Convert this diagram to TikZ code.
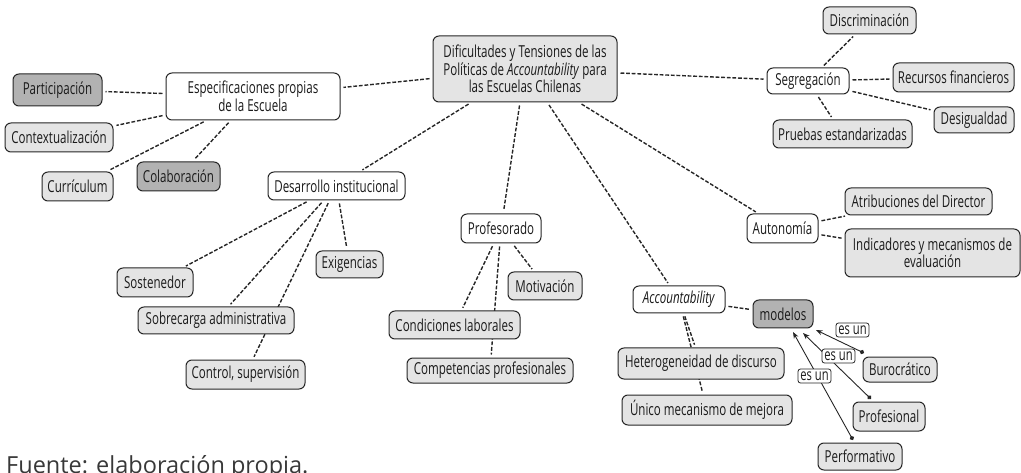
\documentclass[tikz,border=0pt]{standalone}
\usepackage{fontspec}
\setmainfont{Open Sans}[FakeStretch=0.7]
\newfontfamily\capfont{Open Sans}
\usetikzlibrary{arrows.meta,backgrounds}
\definecolor{lightfill}{HTML}{E4E4E4}
\definecolor{darkfill}{HTML}{B2B2B2}
\definecolor{edge}{HTML}{262626}
\definecolor{txt}{HTML}{1A1A1A}
\tikzset{
  box/.style={draw=edge, line width=1pt, rounded corners=6pt, align=center,
    inner sep=0pt, text=txt, font=\fontsize{16.5}{16}\selectfont},
  wbox/.style={box, fill=white},
  lbox/.style={box, fill=lightfill},
  dbox/.style={box, fill=darkfill},
  sz/.style 2 args={minimum width=#1pt, minimum height=#2pt},
  link/.style={draw=edge, line width=1.4pt, dash pattern=on 3.8pt off 1.8pt,
    shorten <=3pt, shorten >=3pt},
  isa/.style={draw=edge, line width=0.9pt, {Circle[length=4.5pt]}-{Stealth[length=6.5pt,width=5pt]}},
  lab/.style={draw=edge, line width=0.8pt, fill=white, rounded corners=2.5pt,
    inner sep=0.5pt, text=txt, font=\fontsize{16}{14}\selectfont,
    minimum width=33pt, minimum height=14pt}
}
\begin{document}
\begin{tikzpicture}[x=1pt,y=-1pt]
\useasboundingbox (0,0) rectangle (1021,473);
% nodes
\node[lbox, sz={184}{66}] (cen) at (525,69) {Dificultades y Tensiones de las\\Políticas de \textit{Accountability} para\\las Escuelas Chilenas};
\node[wbox, sz={174}{47}] (esp) at (253,96.5) {Especificaciones propias\\de la Escuela};
\node[dbox, sz={89}{32}] (part) at (57.5,90) {Participación};
\node[lbox, sz={108}{29}] (cont) at (59,137.5) {Contextualización};
\node[lbox, sz={71}{29}] (curr) at (77.5,186.5) {Currículum};
\node[dbox, sz={83}{29}] (colab) at (178.5,176.5) {Colaboración};
\node[wbox, sz={137}{28}] (des) at (336.5,186) {Desarrollo institucional};
\node[lbox, sz={76}{29}] (sost) at (155,282.5) {Sostenedor};
\node[lbox, sz={67}{27}] (exig) at (349.5,264.5) {Exigencias};
\node[lbox, sz={156}{27}] (sobre) at (216,320.5) {Sobrecarga administrativa};
\node[lbox, sz={119}{29}] (ctrl) at (245.5,374.5) {Control, supervisión};
\node[wbox, sz={80}{29}] (prof) at (501,228.5) {Profesorado};
\node[lbox, sz={74}{28}] (motiv) at (545,286) {Motivación};
\node[lbox, sz={131}{28}] (cond) at (454.5,325) {Condiciones laborales};
\node[lbox, sz={166}{25}] (comp) at (490,370.5) {Competencias profesionales};
\node[wbox, sz={82}{26}] (seg) at (808,81) {Segregación};
\node[lbox, sz={93}{27}] (disc) at (869.5,20.5) {Discriminación};
\node[lbox, sz={121}{29}] (recu) at (953.5,77.5) {Recursos financieros};
\node[lbox, sz={80}{26}] (desig) at (974,120) {Desigualdad};
\node[lbox, sz={139}{28}] (prue) at (842.5,134) {Pruebas estandarizadas};
\node[wbox, sz={71}{29}] (auto) at (782.5,228.5) {Autonomía};
\node[lbox, sz={147}{27}] (atri) at (918.5,201.5) {Atribuciones del Director};
\node[lbox, sz={175}{48}] (indi) at (932.5,253) {Indicadores y mecanismos de\\evaluación};
\node[wbox, sz={92}{27}] (acc) at (679,299.5) {\textit{Accountability}};
\node[dbox, sz={60}{28}] (mod) at (783,314) {modelos};
\node[lbox, sz={166}{31}] (het) at (701,363.5) {Heterogeneidad de discurso};
\node[lbox, sz={170}{30}] (uni) at (707,410) {Único mecanismo de mejora};
\node[lbox, sz={74}{25}] (buro) at (900,369.5) {Burocrático};
\node[lbox, sz={72}{29}] (profe) at (889,416.5) {Profesional};
\node[lbox, sz={84}{27}] (perf) at (860,456.5) {Performativo};
% free ends of the "es un" arrows
\coordinate (b1s) at (864,353); \coordinate (b1e) at (816,330);
\coordinate (b2s) at (871,399); \coordinate (b2e) at (803,333);
\coordinate (b3s) at (853,440); \coordinate (b3e) at (793,332);
\begin{scope}[on background layer]
\draw[link] (cen) -- (esp);
\draw[link] (cen) -- (seg);
\draw[link] (cen) -- (des);
\draw[link] (cen) -- (prof);
\draw[link] (cen) -- (acc);
\draw[link] (cen) -- (auto);
\draw[link] (esp) -- (part);
\draw[link] (esp) -- (cont);
\draw[link] (esp) -- (curr);
\draw[link] (esp) -- (colab);
\draw[link] (seg) -- (disc);
\draw[link] (seg) -- (recu);
\draw[link] (seg) -- (desig);
\draw[link] (seg) -- (prue);
\draw[link] (des) -- (sost);
\draw[link] (des) -- (sobre);
\draw[link] (des) -- (ctrl);
\draw[link] (des) -- (exig);
\draw[link] (prof) -- (cond);
\draw[link] (prof) -- (comp);
\draw[link] (prof) -- (motiv);
\draw[link] (auto) -- (atri);
\draw[link] (auto) -- (indi);
\draw[link] (acc) -- (mod);
\draw[link] (acc) -- (het);
\draw[link] (acc) -- (uni);
\draw[isa] (b1s) -- (b1e);
\draw[isa] (b2s) -- (b2e);
\draw[isa] (b3s) -- (b3e);
\end{scope}
\node[lab] (e1) at (852.5,330) {es un};
\node[lab] (e2) at (838.5,356) {es un};
\node[lab] (e3) at (814.5,376) {es un};
\node[anchor=base west, inner sep=0pt, text=black!78, font=\capfont\fontsize{23.5}{24}\selectfont] (cap) at (6,473.5) {Fuente: elaboración propia.};
\end{tikzpicture}
\end{document}
